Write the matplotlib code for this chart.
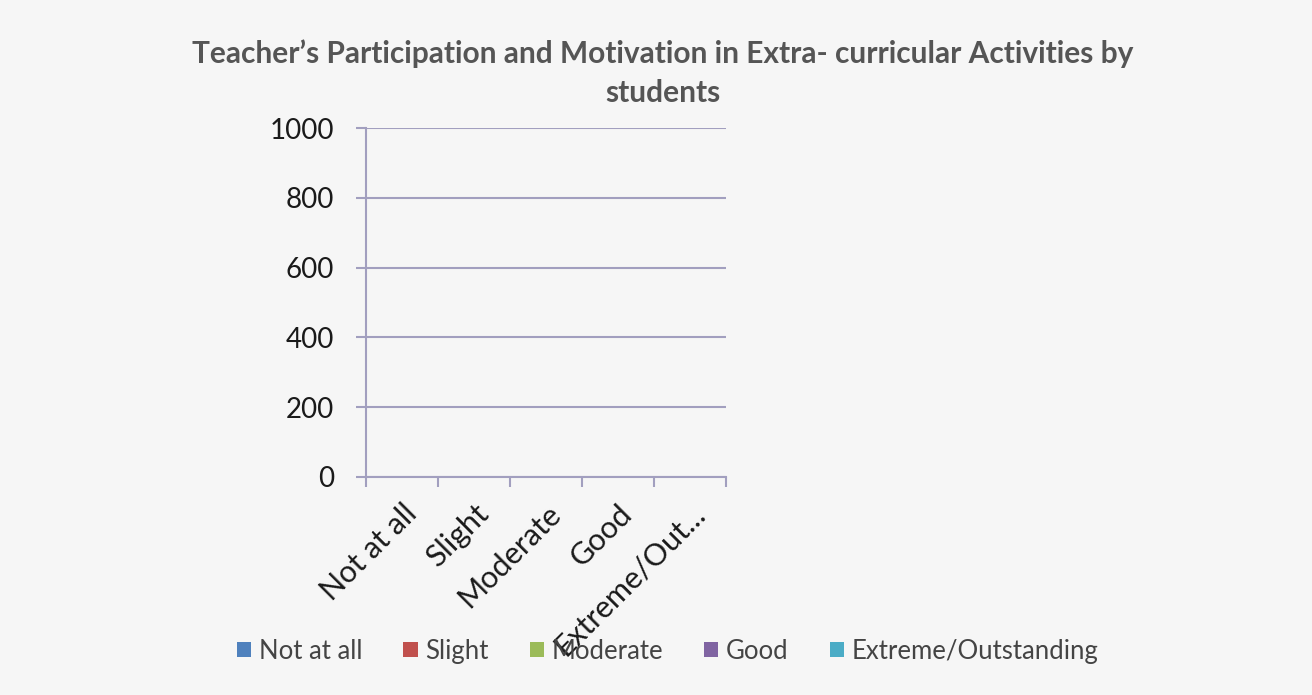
import matplotlib.pyplot as plt
import matplotlib.transforms as mtransforms
import numpy as np

plt.rcParams['font.family'] = ['Lato', 'DejaVu Sans']

categories = ['Not at all', 'Slight', 'Moderate', 'Good', 'Extreme/Outstanding']
tick_labels = ['Not at all', 'Slight', 'Moderate', 'Good', 'Extreme/Out...']
series_names = ['Not at all', 'Slight', 'Moderate', 'Good', 'Extreme/Outstanding']
# no bars are visible in the chart: every value reads as zero
values = {
    'Not at all': [0, 0, 0, 0, 0],
    'Slight': [0, 0, 0, 0, 0],
    'Moderate': [0, 0, 0, 0, 0],
    'Good': [0, 0, 0, 0, 0],
    'Extreme/Outstanding': [0, 0, 0, 0, 0],
}
colors = ['#4f81bd', '#c0504d', '#9bbb59', '#8064a2', '#4bacc6']

bg = '#f6f6f6'
grid_c = '#a29fbf'

fig = plt.figure(figsize=(13.12, 6.95), dpi=100, facecolor=bg)
ax = fig.add_axes([0.279, 0.3137, 0.2744, 0.502])
ax.set_facecolor(bg)

x = np.arange(len(categories))
w = 0.15
for i, name in enumerate(series_names):
    ax.bar(x + (i - 2) * w, values[name], w, color=colors[i], label=name)

ax.set_xlim(-0.5, len(categories) - 0.5)
ax.set_ylim(0, 1000)
ax.set_yticks(range(0, 1001, 200))
ax.yaxis.grid(True, color=grid_c, linewidth=1.5)
ax.set_axisbelow(True)
for s in ['top', 'right']:
    ax.spines[s].set_visible(False)
for s in ['left', 'bottom']:
    ax.spines[s].set_color(grid_c)
    ax.spines[s].set_linewidth(1.5)

ax.set_xticks(np.arange(-0.5, len(categories)), minor=False)
ax.set_xticklabels([])
ax.set_xticks(x, minor=True)
ax.set_xticklabels(tick_labels, minor=True, rotation=45, ha='right',
                   rotation_mode='anchor', fontsize=22, color='#1a1a1a')
shift = mtransforms.ScaledTranslation(8 / 100, -4 / 100, fig.dpi_scale_trans)
for lab in ax.get_xticklabels(minor=True):
    lab.set_transform(lab.get_transform() + shift)
ax.tick_params(axis='x', which='major', length=7, color=grid_c, width=1.5)
ax.tick_params(axis='x', which='minor', length=0, pad=16)
ax.tick_params(axis='y', length=7, color=grid_c, width=1.5, labelsize=20,
               labelcolor='#1a1a1a', pad=16)

fig.text(0.505, 0.895,
         'Teacher\u2019s Participation and Motivation in Extra- curricular Activities by\nstudents',
         ha='center', va='center', fontsize=21.5, fontweight='bold',
         color='#555555', linespacing=1.45)

fig.legend(loc='center', bbox_to_anchor=(0.509, 0.063), ncol=5, frameon=False,
           fontsize=18.5, handlelength=0.55, handleheight=0.55, handletextpad=0.3,
           columnspacing=1.6, labelcolor='#444444')

fig.savefig('out.png', dpi=100, facecolor=bg)
